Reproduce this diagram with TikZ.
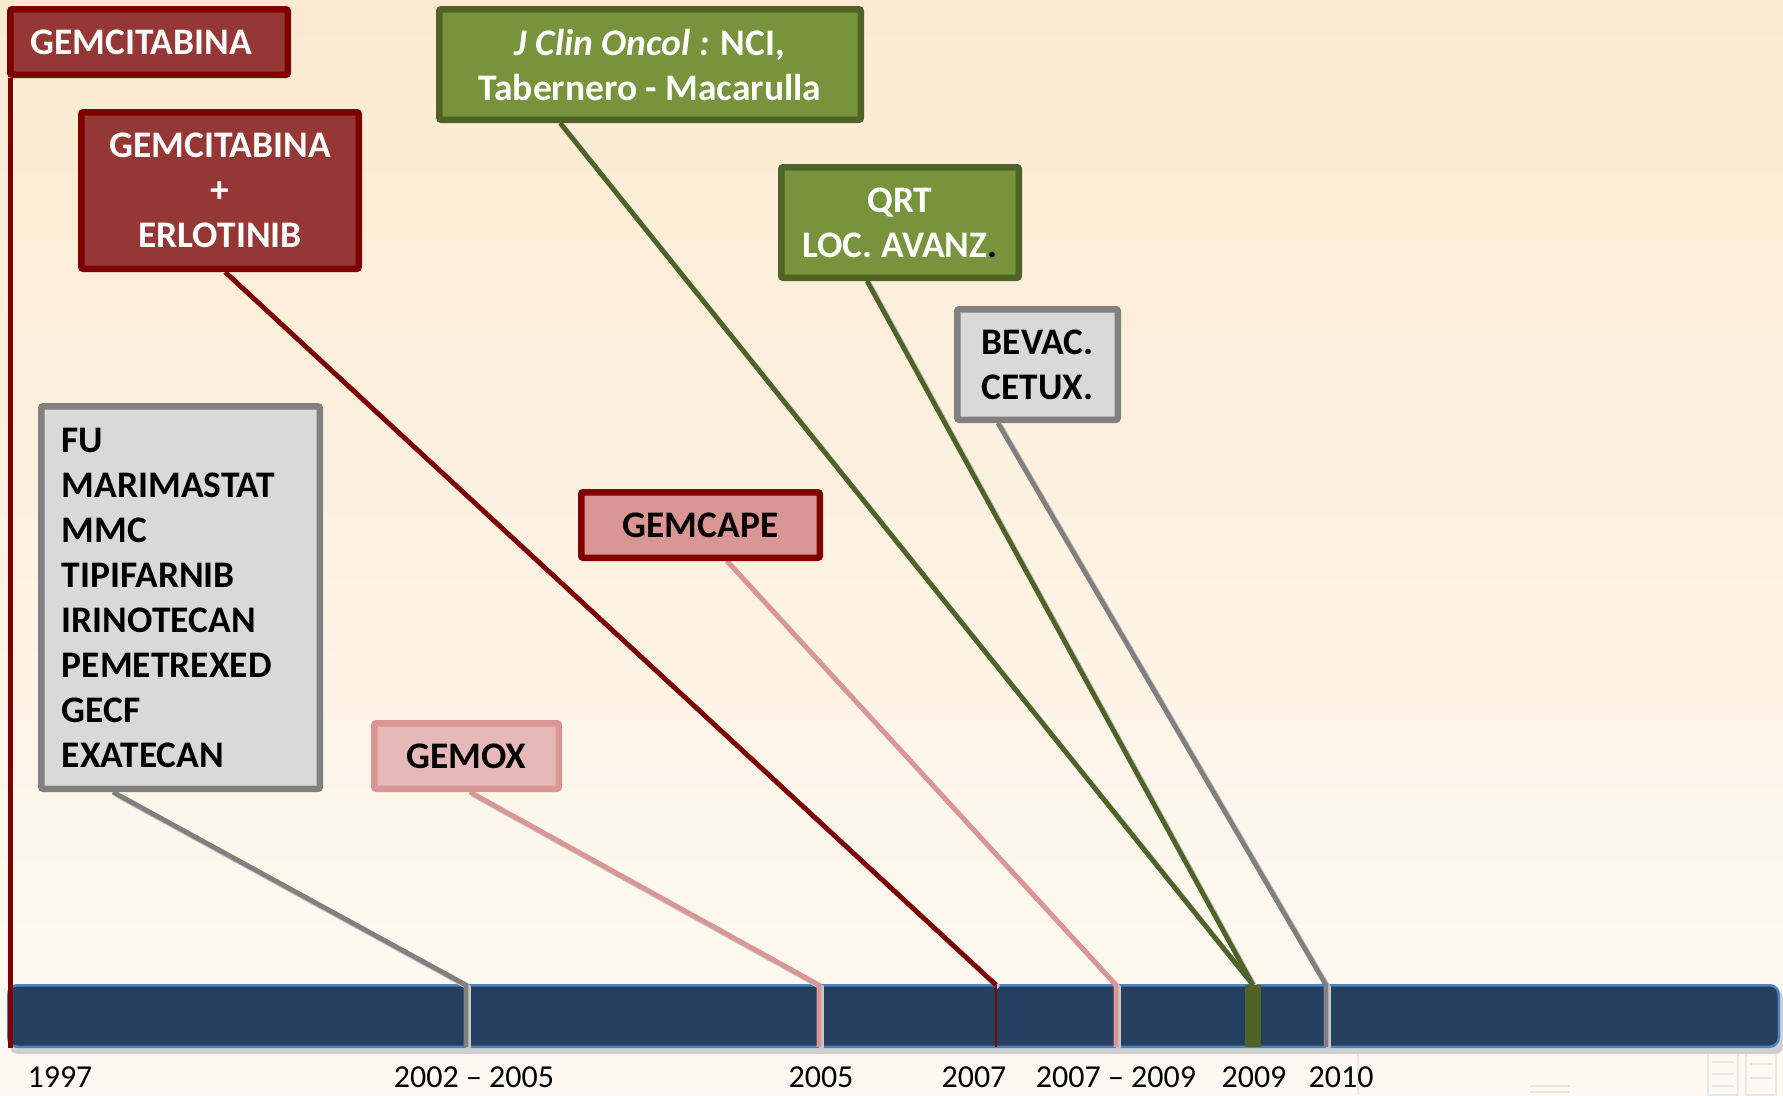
\documentclass[tikz,border=0pt]{standalone}
\usepackage{fontspec}
\setmainfont{Carlito}
\usetikzlibrary{calc}
\definecolor{bgtop}{HTML}{FBEAD0}
\definecolor{bgbot}{HTML}{FEFAF3}
\definecolor{dred}{HTML}{7F0000}
\definecolor{rfill}{HTML}{953735}
\definecolor{gfill}{HTML}{77933C}
\definecolor{gdark}{HTML}{4F6228}
\definecolor{grfill}{HTML}{D9D9D9}
\definecolor{grline}{HTML}{808080}
\definecolor{pink}{HTML}{D99694}
\definecolor{lpink}{HTML}{E6B9B8}
\definecolor{navy}{HTML}{243F60}
\definecolor{barline}{HTML}{4F81BD}
\pgfdeclarelayer{back}
\pgfsetlayers{back,main}
\tikzset{
  box/.style={draw, line width=6.5pt, rounded corners=2pt, inner sep=0pt,
    font=\bfseries\fontsize{37.5}{45}\selectfont, align=center},
  redbox/.style={box, draw=dred, fill=rfill, text=white},
  greenbox/.style={box, draw=gdark, fill=gfill, text=white},
  greybox/.style={box, draw=grline, fill=grfill, text=black},
  capebox/.style={box, draw=dred, fill=pink, text=black},
  oxbox/.style={box, draw=pink, fill=lpink, text=black},
  conn/.style={line width=4.8pt, line join=miter,
    preaction={draw=black!22, line width=4.8pt, transform canvas={shift={(2.5pt,-2.5pt)}}}},
  yearlab/.style={font=\fontsize{32}{38}\selectfont, text=black, inner sep=0pt},
  faint/.style={draw=black!9, line width=1.5pt}
}
\begin{document}
\begin{tikzpicture}[x=1pt,y=-1pt]
\useasboundingbox (0,0) rectangle (1783,1095);
% boxes
\node[redbox, minimum width=277.5pt, minimum height=65.5pt, inner xsep=20pt, text width=237.5pt, align=left] (gem) at (149,42) {GEMCITABINA};
\node[redbox, minimum width=277.5pt, minimum height=156.5pt] (gemerl) at (220,190.5) {GEMCITABINA\\+\\ERLOTINIB};
\node[greenbox, minimum width=421.5pt, minimum height=110.5pt] (jco) at (650,64.5) {\textit{J Clin Oncol :} NCI,\\Tabernero - Macarulla};
\node[greenbox, minimum width=237.5pt, minimum height=110.5pt] (qrt) at (900,222.5) {QRT\\LOC. AVANZ{\color{black}.}};
\node[greybox, minimum width=160.5pt, minimum height=110.5pt] (bev) at (1037.5,364.5) {BEVAC.\\CETUX.};
\node[greybox, minimum width=278.5pt, minimum height=382.5pt, inner xsep=20.5pt, text width=237.5pt, align=left] (fu) at (180.5,597.5) {FU\\MARIMASTAT\\MMC\\TIPIFARNIB\\IRINOTECAN\\PEMETREXED\\GECF\\EXATECAN};
\node[capebox, minimum width=238.5pt, minimum height=65.5pt] (gemcape) at (700.5,525) {GEMCAPE};
\node[oxbox, minimum width=184.5pt, minimum height=65.5pt] (gemox) at (466.5,756) {GEMOX};
% year labels
\node[yearlab] (y1997) at (60,1077) {1997};
\node[yearlab] (y0205) at (474,1077) {2002 -- 2005};
\node[yearlab] (y2005) at (821,1077) {2005};
\node[yearlab] (y2007) at (974,1077) {2007};
\node[yearlab] (y0709) at (1116,1077) {2007 -- 2009};
\node[yearlab] (y2009) at (1254,1077) {2009};
\node[yearlab] (y2010) at (1341,1077) {2010};
\begin{pgfonlayer}{back}
\fill[top color=bgtop, bottom color=bgbot] (0,0) rectangle (1783,1095);
% faint background artefacts
\draw[faint] (1358,1052) -- (1358,1095);
\draw[faint] (1530,1086) -- (1570,1086) (1530,1092) -- (1570,1092);
\draw[faint] (1708,1052) rectangle (1738,1095) (1712,1062) -- (1734,1062) (1712,1074) -- (1734,1074) (1712,1086) -- (1734,1086);
\draw[faint] (1746,1052) rectangle (1776,1095) (1750,1064) -- (1772,1064) (1750,1078) -- (1772,1078);
% bar shadow and bar
\fill[black!18, rounded corners=8pt] (10,990) rectangle (1783,1054);
\node[draw=barline, fill=navy, line width=2.5pt, rounded corners=9pt, inner sep=0pt, outer sep=0pt,
  minimum width=1770.5pt, minimum height=61.5pt] (bar) at (893.5,1016) {};
% tick points
\coordinate (k0205) at (466,985);
\coordinate (k2005) at (819,985);
\coordinate (k2007) at (996,985);
\coordinate (k0709) at (1116,985);
\coordinate (k2009) at (1253,985);
\coordinate (k2010) at (1326,985);
% connectors
\draw[dred, line width=5pt] ($(gem.south west)!0.0106!(gem.south east)$) -- ++(0,970);
\draw[conn, grline] ($(fu.south west)!0.263!(fu.south east)$) -- (k0205) -- (k0205 |- bar.south);
\draw[conn, pink] ($(gemox.south west)!0.518!(gemox.south east)$) -- (k2005) -- (k2005 |- bar.south);
\draw[conn, dred] ($(gemerl.south west)!0.518!(gemerl.south east)$) -- (k2007);
\draw[dred, line width=2.5pt] (k2007) -- (k2007 |- bar.south);
\draw[conn, pink] ($(gemcape.south west)!0.608!(gemcape.south east)$) -- (k0709) -- (k0709 |- bar.south);
\draw[conn, gdark] ($(jco.south west)!0.29!(jco.south east)$) -- (k2009);
\draw[conn, gdark] ($(qrt.south west)!0.365!(qrt.south east)$) -- (k2009);
\fill[gdark] ($(k2009)+(-8,0)$) rectangle ($(k2009 |- bar.south)+(8,0)$);
\draw[conn, grline] ($(bev.south west)!0.263!(bev.south east)$) -- (k2010) -- (k2010 |- bar.south);
\end{pgfonlayer}
\end{tikzpicture}
\end{document}
